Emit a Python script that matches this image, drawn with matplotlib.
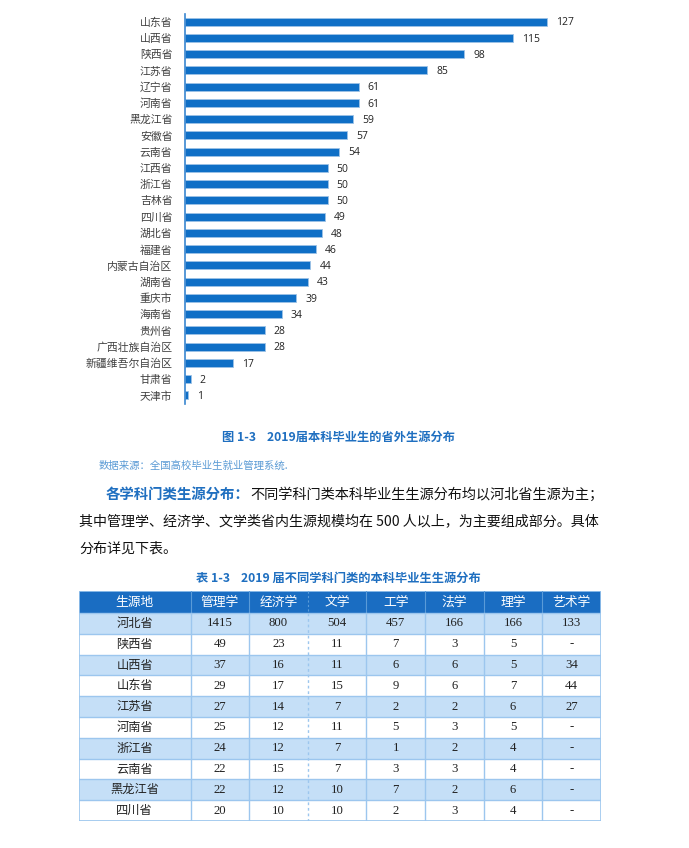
import numpy as np
import matplotlib
matplotlib.use("Agg")
import matplotlib.pyplot as plt
from matplotlib.patches import Rectangle

plt.rcParams['font.family'] = ['Noto Sans CJK SC', 'DejaVu Sans']

# ---- data: chart ----
provinces = ['山东省', '山西省', '陕西省', '江苏省', '辽宁省', '河南省', '黑龙江省', '安徽省',
             '云南省', '江西省', '浙江省', '吉林省', '四川省', '湖北省', '福建省', '内蒙古自治区',
             '湖南省', '重庆市', '海南省', '贵州省', '广西壮族自治区', '新疆维吾尔自治区', '甘肃省', '天津市']
counts = [127, 115, 98, 85, 61, 61, 59, 57, 54, 50, 50, 50, 49, 48, 46, 44, 43, 39, 34, 28, 28, 17, 2, 1]

# ---- data: table ----
table_header = ['生源地', '管理学', '经济学', '文学', '工学', '法学', '理学', '艺术学']
table_rows = ['河北省', '陕西省', '山西省', '山东省', '江苏省', '河南省', '浙江省', '云南省', '黑龙江省', '四川省']
table_vals = [
    ['1415', '800', '504', '457', '166', '166', '133'],
    ['49', '23', '11', '7', '3', '5', '-'],
    ['37', '16', '11', '6', '6', '5', '34'],
    ['29', '17', '15', '9', '6', '7', '44'],
    ['27', '14', '7', '2', '2', '6', '27'],
    ['25', '12', '11', '5', '3', '5', '-'],
    ['24', '12', '7', '1', '2', '4', '-'],
    ['22', '15', '7', '3', '3', '4', '-'],
    ['22', '12', '10', '7', '2', '6', '-'],
    ['20', '10', '10', '2', '3', '4', '-'],
]

W, H = 689, 848
BLUE = '#0F6FC6'
TXT_BLUE = '#1F6FC0'
LIGHT = '#C5DFF7'
GRID = '#9CC6EE'

fig = plt.figure(figsize=(W / 100, H / 100), dpi=100)
fig.patch.set_facecolor('white')

# ---- bar chart ----
px_per_unit = (547 - 185) / 127
ax_left, ax_right = 185, 620
ax_top, ax_bot = 13.5, 403.5
ax = fig.add_axes([ax_left / W, 1 - ax_bot / H, (ax_right - ax_left) / W, (ax_bot - ax_top) / H])
y = np.arange(len(provinces))
ax.barh(y, counts, height=0.48, color=BLUE, edgecolor='#9DC3E6', linewidth=0.6)
ax.set_xlim(0, (ax_right - ax_left) / px_per_unit)
ax.set_ylim(len(provinces) - 0.5, -0.5)
ax.set_yticks(y)
ax.set_yticklabels(provinces, fontsize=7.8, color='#404040')
ax.tick_params(axis='y', length=0, pad=9)
ax.set_xticks([])
for s in ['top', 'right', 'bottom']:
    ax.spines[s].set_visible(False)
ax.spines['left'].set_color('#3A86D0')
ax.spines['left'].set_linewidth(1.2)
for yi, v in zip(y, counts):
    ax.text(v + 9 / px_per_unit, yi + 0.08, str(v), va='center', ha='left', fontsize=7.5,
            color='#222222', family=['Open Sans', 'DejaVu Sans'])
ax.patch.set_alpha(0)

# ---- captions and paragraph ----
def ftxt(x, yy, s, **kw):
    fig.text(x / W, 1 - yy / H, s, **kw)

ftxt(338, 437, '图 1-3    2019届本科毕业生的省外生源分布', ha='center', va='center',
     fontsize=8.8, fontweight='bold', color=TXT_BLUE)
ftxt(99, 466, '数据来源：全国高校毕业生就业管理系统.', ha='left', va='center',
     fontsize=7.5, color='#5B9BD5')
ftxt(106, 495, '各学科门类生源分布：', ha='left', va='center', fontsize=10.4,
     fontweight='bold', color=TXT_BLUE)
ftxt(250, 495, '不同学科门类本科毕业生生源分布均以河北省生源为主；', ha='left', va='center',
     fontsize=10.2, color='#111111')
ftxt(79, 521, '其中管理学、经济学、文学类省内生源规模均在 500 人以上，为主要组成部分。具体',
     ha='left', va='center', fontsize=10.1, color='#111111')
ftxt(79, 549, '分布详见下表。', ha='left', va='center', fontsize=10.1, color='#111111')
ftxt(338, 578, '表 1-3    2019 届不同学科门类的本科毕业生生源分布', ha='center', va='center',
     fontsize=8.8, fontweight='bold', color=TXT_BLUE)

# ---- table ----
t_left, t_right, t_top, t_bot = 79, 601, 591, 821
tax = fig.add_axes([t_left / W, 1 - t_bot / H, (t_right - t_left) / W, (t_bot - t_top) / H])
tw, th = t_right - t_left, t_bot - t_top
tax.set_xlim(0, tw)
tax.set_ylim(th, 0)
tax.axis('off')

first_w = 111.5
col_w = (tw - first_w) / 7
col_edges = [0, first_w] + [first_w + col_w * (i + 1) for i in range(7)]
head_h = 22
row_h = (th - head_h) / len(table_rows)

tax.add_patch(Rectangle((0, 0), tw, head_h, facecolor='#1A6DC2', edgecolor='none'))
for i in range(len(table_rows)):
    fc = LIGHT if i % 2 == 0 else 'white'
    tax.add_patch(Rectangle((0, head_h + i * row_h), tw, row_h, facecolor=fc, edgecolor='none'))

# grid lines
for i in range(len(table_rows) + 1):
    yy = head_h + i * row_h
    tax.plot([0, tw], [yy, yy], color=GRID, lw=1.0)
for j, xe in enumerate(col_edges[1:-1]):
    ls = (0, (2, 2)) if j == 2 else '-'
    tax.plot([xe, xe], [0, head_h], color='#5A9BD8', lw=0.8, ls=ls)
    tax.plot([xe, xe], [head_h, th], color=GRID, lw=1.0, ls=ls)
tax.add_patch(Rectangle((0, 0), tw, th, facecolor='none', edgecolor=GRID, lw=1.2))

centers = [(col_edges[k] + col_edges[k + 1]) / 2 for k in range(8)]
for k, h in enumerate(table_header):
    tax.text(centers[k], head_h / 2 + 0.5, h, ha='center', va='center', fontsize=9.2,
             color='white')
for i, name in enumerate(table_rows):
    yc = head_h + (i + 0.5) * row_h
    tax.text(centers[0], yc, name, ha='center', va='center', fontsize=8.8, color='#222222')
    for k, v in enumerate(table_vals[i]):
        tax.text(centers[k + 1], yc, v, ha='center', va='center', fontsize=9.2,
                 color='#222222', family=['Liberation Serif', 'DejaVu Serif'])

fig.savefig('out.png', dpi=100)
